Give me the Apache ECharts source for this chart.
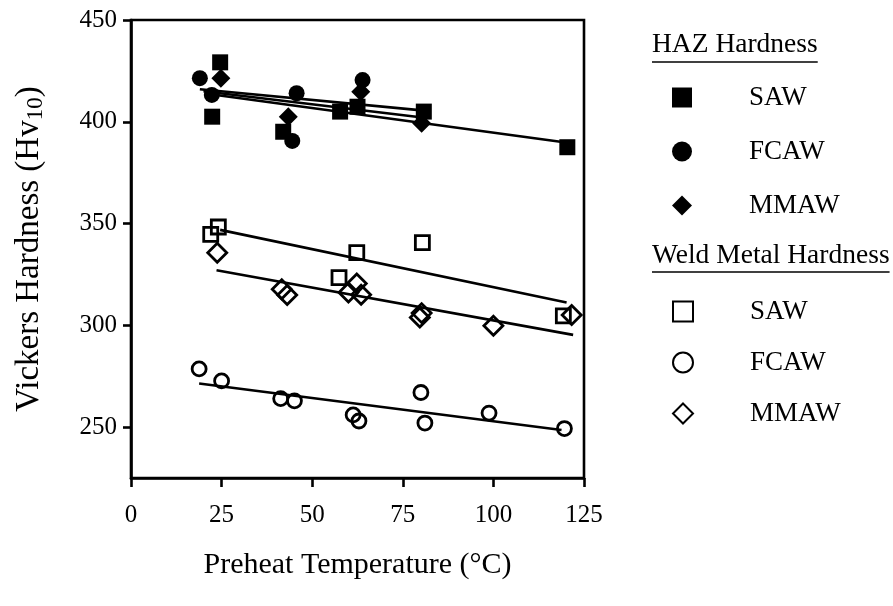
<!DOCTYPE html>
<html><head><meta charset="utf-8">
<script src="https://cdn.jsdelivr.net/npm/echarts@6/dist/echarts.min.js"></script>
<style>html,body{margin:0;padding:0;background:#fff}#c{width:893px;height:606px}</style>
</head><body><div id="c"></div>
<script>
// ---- data ----
const xTicks = [0, 25, 50, 75, 100, 125];
const yTicks = [250, 300, 350, 400, 450];
const groupTitles = ['HAZ Hardness', 'Weld Metal Hardness'];
const processes = ['SAW', 'FCAW', 'MMAW'];

const hazSawX = [24.6, 22.4, 42.0, 57.7, 62.5, 80.8, 120.4];
const hazSawY = [429.2, 402.5, 395.1, 405.0, 407.4, 405.0, 387.5];
const hazFcawX = [19.0, 22.3, 45.7, 44.5, 63.9];
const hazFcawY = [421.4, 413.2, 414.0, 390.6, 420.5];
const hazMmawX = [24.8, 43.4, 63.4, 80.2];
const hazMmawY = [421.4, 402.5, 414.8, 399.3];

const wmSawX = [24.1, 22.0, 57.4, 62.3, 80.4, 119.3];
const wmSawY = [348.3, 344.7, 323.4, 335.7, 340.6, 304.6];
const wmFcawX = [18.8, 25.0, 41.3, 45.1, 61.3, 62.9, 80.0, 81.1, 98.8, 119.6];
const wmFcawY = [278.6, 272.7, 264.0, 262.9, 256.0, 253.0, 267.0, 252.0, 256.9, 249.3];
const wmMmawX = [23.8, 41.6, 43.1, 60.0, 62.3, 63.5, 79.7, 80.2, 100.0, 121.6];
const wmMmawY = [335.7, 317.7, 314.9, 316.1, 320.5, 315.0, 303.8, 306.0, 299.8, 305.1];

// fitted trend lines (end points)
const hazSawFitX = [22, 120],   hazSawFitY = [413.5, 389.8];
const hazFcawFitX = [19, 81],   hazFcawFitY = [416.0, 405.5];
const hazMmawFitX = [20, 81],   hazMmawFitY = [415.0, 402.0];
const wmSawFitX = [24.6, 120.2], wmSawFitY = [346.9, 311.2];
const wmFcawFitX = [18.8, 118.8], wmFcawFitY = [271.4, 248.6];
const wmMmawFitX = [23.6, 122.0], wmMmawFitY = [327.1, 295.3];

// ---- build ----
const zip = (xs, ys) => xs.map((x, i) => [x, ys[i]]);
const FONT = 'Liberation Serif';
const filled = { color: '#000', opacity: 1 };
const hollow = { color: 'rgba(0,0,0,0)', borderColor: '#000', borderWidth: 2.8, opacity: 1 };

function pts(name, xs, ys, symbol, size, style) {
  return { name, type: 'scatter', data: zip(xs, ys), symbol, symbolSize: size,
    itemStyle: style, z: 3, emphasis: { disabled: true }, silent: true };
}
function fit(xs, ys) {
  return { type: 'line', data: zip(xs, ys), symbol: 'none', z: 2, silent: true,
    lineStyle: { color: '#000', width: 2.6 } };
}

const series = [
  fit(hazSawFitX, hazSawFitY), fit(hazFcawFitX, hazFcawFitY), fit(hazMmawFitX, hazMmawFitY),
  fit(wmSawFitX, wmSawFitY), fit(wmFcawFitX, wmFcawFitY), fit(wmMmawFitX, wmMmawFitY),
  pts('HAZ SAW', hazSawX, hazSawY, 'rect', 16, filled),
  pts('HAZ FCAW', hazFcawX, hazFcawY, 'circle', 16, filled),
  pts('HAZ MMAW', hazMmawX, hazMmawY, 'diamond', 19, filled),
  pts('WM SAW', wmSawX, wmSawY, 'rect', 14, hollow),
  pts('WM FCAW', wmFcawX, wmFcawY, 'circle', 14, hollow),
  pts('WM MMAW', wmMmawX, wmMmawY, 'diamond', 19, hollow)
];

function measure(t, f) {
  const c = document.createElement('canvas').getContext('2d');
  c.font = f; return c.measureText(t).width;
}
const titleFont = '27.5px "' + FONT + '"';
const w1 = measure(groupTitles[0], titleFont), w2 = measure(groupTitles[1], titleFont);

const legendCommon = {
  orient: 'vertical', left: 667, itemWidth: 20, itemHeight: 20, selectedMode: false,
  formatter: n => n.split(' ')[1],
  textStyle: { fontFamily: FONT, fontSize: 27, color: '#000', lineHeight: 26, padding: [0, 0, 0, 52] }
};

const chart = echarts.init(document.getElementById('c'), null, { renderer: 'canvas' });
chart.setOption({
  animation: false,
  backgroundColor: '#fff',
  grid: { left: 131, top: 20, width: 453, height: 458, containLabel: false, outerBoundsMode: 'none',
    show: true, borderColor: '#000', borderWidth: 2.6 },
  xAxis: {
    type: 'value', min: xTicks[0], max: xTicks[xTicks.length - 1], interval: 25,
    name: 'Preheat Temperature (°C)', nameLocation: 'middle', nameGap: 72,
    nameTextStyle: { fontFamily: FONT, fontSize: 30, color: '#000' },
    axisLine: { lineStyle: { color: '#000', width: 2.6 } },
    axisTick: { show: true, length: 9, lineStyle: { color: '#000', width: 2.6 } },
    axisLabel: { fontFamily: FONT, fontSize: 25, color: '#000', margin: 25 },
    splitLine: { show: false }
  },
  yAxis: {
    type: 'value', min: 225, max: yTicks[yTicks.length - 1],
    name: '{a|Vickers Hardness (Hv}{s|10}{a|)}', nameLocation: 'middle', nameGap: 84, nameRotate: 90,
    nameTextStyle: { rich: {
      a: { fontFamily: FONT, fontSize: 33, color: '#000', lineHeight: 36 },
      s: { fontFamily: FONT, fontSize: 23, color: '#000', lineHeight: 36, verticalAlign: 'bottom', padding: [13, 0, 0, 0] }
    } },
    axisLine: { lineStyle: { color: '#000', width: 2.6 } },
    axisTick: { show: true, length: 8, customValues: yTicks, lineStyle: { color: '#000', width: 2.6 } },
    axisLabel: { fontFamily: FONT, fontSize: 25, color: '#000', margin: 14, customValues: yTicks },
    splitLine: { show: false }
  },
  legend: [
    Object.assign({}, legendCommon, { top: 79, itemGap: 27, data: ['HAZ SAW', 'HAZ FCAW', 'HAZ MMAW'] }),
    Object.assign({}, legendCommon, { top: 293, itemGap: 24, data: ['WM SAW', 'WM FCAW', 'WM MMAW'] })
  ],
  graphic: [
    { type: 'text', left: 652, top: 31, style: { text: groupTitles[0], font: titleFont, fill: '#000' } },
    { type: 'line', shape: { x1: 652, y1: 62, x2: 652 + w1, y2: 62 }, style: { stroke: '#000', lineWidth: 1.5 } },
    { type: 'text', left: 652, top: 242, style: { text: groupTitles[1], font: titleFont, fill: '#000' } },
    { type: 'line', shape: { x1: 652, y1: 272, x2: 652 + w2, y2: 272 }, style: { stroke: '#000', lineWidth: 1.5 } }
  ],
  series
});
</script>
</body></html>
